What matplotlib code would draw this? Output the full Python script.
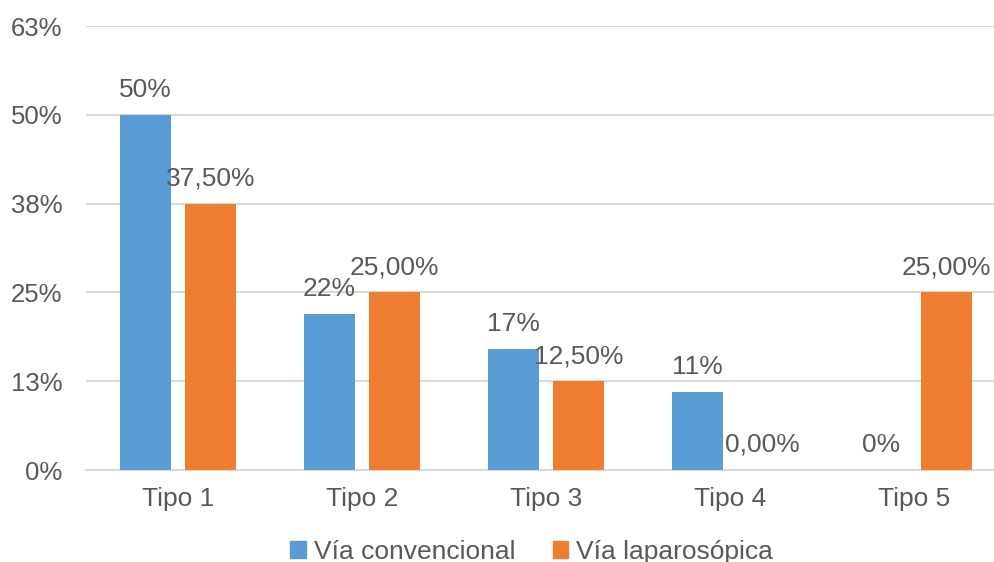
import matplotlib

matplotlib.use("Agg")
import matplotlib.pyplot as plt  # noqa: E402
from matplotlib.patches import Patch  # noqa: E402

categories = ["Tipo 1", "Tipo 2", "Tipo 3", "Tipo 4", "Tipo 5"]
convencional = [0.50, 0.22, 0.17, 0.11, 0.0]
laparoscopica = [0.375, 0.25, 0.125, 0.0, 0.25]
conv_labels = ["50%", "22%", "17%", "11%", "0%"]
lap_labels = ["37,50%", "25,00%", "12,50%", "0,00%", "25,00%"]
yticks = [0, 0.125, 0.25, 0.375, 0.5, 0.625]
ytick_labels = ["0%", "13%", "25%", "38%", "50%", "63%"]

BLUE = "#5B9BD5"
ORANGE = "#ED7D31"
TEXT = "#595959"
GRID = "#D9D9D9"

plt.rcParams["font.family"] = ["Liberation Sans", "DejaVu Sans"]

fig = plt.figure(figsize=(9.94, 5.62), dpi=100)
ax = fig.add_axes([86 / 994, 92 / 562, 920 / 994, 444 / 562])

x = list(range(len(categories)))
w = 0.275
off = 0.178
b1 = ax.bar([i - off for i in x], convencional, w, color=BLUE, zorder=3)
b2 = ax.bar([i + off for i in x], laparoscopica, w, color=ORANGE, zorder=3)

for bars, labels in ((b1, conv_labels), (b2, lap_labels)):
    for rect, lab in zip(bars, labels):
        ax.annotate(lab, (rect.get_x() + rect.get_width() / 2, rect.get_height()),
                    xytext=(0, 13), textcoords="offset points",
                    ha="center", va="baseline", fontsize=19, color=TEXT)

ax.set_xlim(-0.5, 4.5)
ax.set_ylim(0, 0.625)
ax.set_yticks(yticks)
ax.set_yticklabels(ytick_labels)
ax.set_xticks(x)
ax.set_xticklabels(categories)
ax.tick_params(axis="both", length=0, labelcolor=TEXT)
ax.tick_params(axis="y", pad=17, labelsize=18.5)
ax.tick_params(axis="x", pad=12, labelsize=19)
ax.grid(axis="y", color=GRID, lw=1.5, zorder=0)
for s in ("top", "right", "left"):
    ax.spines[s].set_visible(False)
ax.spines["bottom"].set_color(GRID)
ax.spines["bottom"].set_linewidth(1.5)

handles = [Patch(color=BLUE, label="Vía convencional"),
           Patch(color=ORANGE, label="Vía laparosópica")]
fig.legend(handles=handles, loc="center", bbox_to_anchor=(0.535, 0.018), ncol=2,
           frameon=False, fontsize=19, labelcolor=TEXT,
           handlelength=0.6, handleheight=0.6, handletextpad=0.3, columnspacing=1.4)

fig.savefig("out.png", dpi=100)
